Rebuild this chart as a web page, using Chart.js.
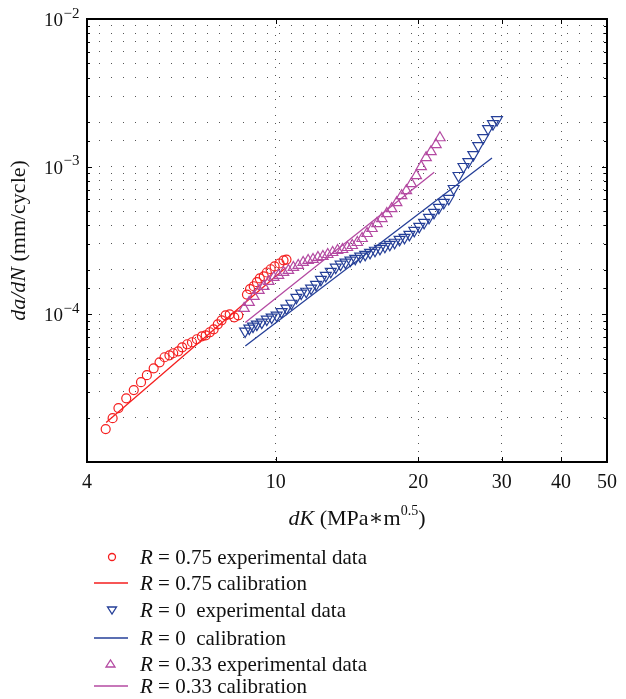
<!DOCTYPE html>
<html>
<head>
<meta charset="utf-8">
<script src="https://cdn.jsdelivr.net/npm/chart.js@4.4.1/dist/chart.umd.min.js"></script>
<style>
  html, body { margin: 0; padding: 0; background: #fff; }
  #wrap { width: 626px; height: 699px; }
</style>
</head>
<body>
<div id="wrap"><canvas id="crack" width="626" height="699"></canvas></div>
<script>
// axis ticks
const X_TICKS = [4, 10, 20, 30, 40, 50];
const Y_MAJOR = [1e-4, 1e-3, 1e-2];

// R = 0.75 experimental data
const R075_DK = [4.38, 4.53, 4.66, 4.84, 5.02, 5.20, 5.35, 5.53, 5.69, 5.83, 5.97, 6.08, 6.23, 6.35,
  6.51, 6.66, 6.82, 6.99, 7.12, 7.26, 7.40, 7.55, 7.69, 7.84, 8.00, 8.18, 8.34, 8.70, 8.83, 8.99,
  9.13, 9.26, 9.44, 9.58, 9.76, 9.95, 10.19, 10.39, 10.54];
const R075_RATE = [1.67e-5, 1.98e-5, 2.32e-5, 2.70e-5, 3.07e-5, 3.47e-5, 3.87e-5, 4.31e-5, 4.73e-5,
  5.12e-5, 5.28e-5, 5.45e-5, 5.62e-5, 5.98e-5, 6.27e-5, 6.47e-5, 6.78e-5, 7.10e-5, 7.21e-5, 7.56e-5,
  7.92e-5, 8.56e-5, 9.11e-5, 9.84e-5, 1.00e-4, 9.54e-5, 9.85e-5, 1.36e-4, 1.48e-4, 1.55e-4, 1.65e-4,
  1.75e-4, 1.81e-4, 1.92e-4, 2.02e-4, 2.11e-4, 2.21e-4, 2.32e-4, 2.35e-4];
// R = 0.75 calibration
const R075_CAL_DK = [4.39, 10.5];
const R075_CAL_RATE = [1.85e-5, 2.07e-4];

// R = 0 experimental data
const R0_DK = [8.62, 8.80, 8.96, 9.13, 9.35, 9.58, 9.81, 10.05, 10.29, 10.54, 10.79, 11.06, 11.32,
  11.60, 11.88, 12.17, 12.46, 12.76, 13.07, 13.39, 13.71, 14.04, 14.38, 14.72, 15.08, 15.45, 15.82,
  16.20, 16.60, 17.00, 17.41, 17.82, 18.26, 18.70, 19.15, 19.61, 20.09, 20.57, 21.07, 21.58, 22.10,
  22.63, 23.18, 23.74, 24.31, 24.90, 25.50, 26.12, 26.75, 27.40, 28.06, 28.74, 29.30];
const R0_RATE = [7.68e-5, 8.04e-5, 8.30e-5, 8.56e-5, 8.83e-5, 9.25e-5, 9.54e-5, 9.84e-5, 1.04e-4,
  1.10e-4, 1.186e-4, 1.30e-4, 1.39e-4, 1.43e-4, 1.50e-4, 1.59e-4, 1.72e-4, 1.83e-4, 1.95e-4, 2.08e-4,
  2.18e-4, 2.25e-4, 2.32e-4, 2.39e-4, 2.47e-4, 2.54e-4, 2.62e-4, 2.71e-4, 2.79e-4, 2.88e-4, 2.97e-4,
  3.07e-4, 3.21e-4, 3.31e-4, 3.47e-4, 3.69e-4, 3.93e-4, 4.18e-4, 4.52e-4, 4.89e-4, 5.28e-4, 5.71e-4,
  6.08e-4, 7.10e-4, 8.69e-4, 1.0e-3, 1.08e-3, 1.205e-3, 1.386e-3, 1.57e-3, 1.806e-3, 1.95e-3, 2.08e-3];
// R = 0 calibration
const R0_CAL_DK = [8.63, 28.6];
const R0_CAL_RATE = [6.1e-5, 1.145e-3];

// R = 0.33 experimental data
const R033_DK = [8.58, 8.79, 9.00, 9.22, 9.44, 9.67, 9.91, 10.14, 10.39, 10.64, 10.90, 11.16, 11.43,
  11.71, 11.99, 12.28, 12.58, 12.88, 13.19, 13.51, 13.84, 14.17, 14.51, 14.87, 15.22, 15.59, 15.97,
  16.36, 16.75, 17.16, 17.57, 18.00, 18.44, 18.87, 19.33, 19.80, 20.28, 20.77, 21.27, 21.79, 22.21];
const R033_RATE = [1.098e-4, 1.205e-4, 1.323e-4, 1.453e-4, 1.546e-4, 1.671e-4, 1.778e-4, 1.834e-4,
  1.922e-4, 1.983e-4, 2.078e-4, 2.143e-4, 2.245e-4, 2.317e-4, 2.353e-4, 2.427e-4, 2.465e-4, 2.543e-4,
  2.623e-4, 2.706e-4, 2.749e-4, 2.836e-4, 2.925e-4, 3.066e-4, 3.263e-4, 3.527e-4, 3.813e-4, 4.119e-4,
  4.452e-4, 4.813e-4, 5.202e-4, 5.712e-4, 6.369e-4, 6.884e-4, 7.675e-4, 8.694e-4, 1.0e-3, 1.15e-3,
  1.263e-3, 1.408e-3, 1.57e-3];
// R = 0.33 calibration
const R033_CAL_DK = [8.63, 21.6];
const R033_CAL_RATE = [8.79e-5, 9.15e-4];

const RED = "#f51e1e", BLUE = "#253f98", MAGENTA = "#b44aa2";
const SERIF = "'Liberation Serif', 'DejaVu Serif', serif";

const pts = (xs, ys) => xs.map((x, i) => ({ x, y: ys[i] }));

function expSet(label, xs, ys, color, style, rot, r, order) {
    return {
        label, data: pts(xs, ys), showLine: false,
        pointStyle: style, rotation: rot, pointRadius: r, pointBorderWidth: 1.2,
        borderColor: color, backgroundColor: "rgba(0,0,0,0)", order,
    };
}
function calSet(label, xs, ys, color, order) {
    return {
        label, data: pts(xs, ys), showLine: true, pointRadius: 0,
        borderColor: color, borderWidth: 1.3, fill: false, order,
    };
}

// ── frame, inward ticks, labels, titles and legend ──────────────────────────
const decor = {
    id: "decor",
    afterDraw(chart) {
        const { ctx, chartArea: a, scales } = chart;
        const xs = scales.x, ys = scales.y;
        ctx.save();

        // inward ticks
        ctx.strokeStyle = "#000";
        ctx.lineWidth = 1;
        X_TICKS.slice(1, -1).forEach(v => {
            const px = Math.round(xs.getPixelForValue(v)) + 0.5;
            ctx.beginPath();
            ctx.moveTo(px, a.bottom); ctx.lineTo(px, a.bottom - 5);
            ctx.moveTo(px, a.top); ctx.lineTo(px, a.top + 5);
            ctx.stroke();
        });
        ys.ticks.forEach(t => {
            const py = Math.round(ys.getPixelForValue(t.value)) + 0.5;
            const len = Y_MAJOR.includes(t.value) ? 5 : 3;
            ctx.beginPath();
            ctx.moveTo(a.left, py); ctx.lineTo(a.left + len, py);
            ctx.moveTo(a.right, py); ctx.lineTo(a.right - len, py);
            ctx.stroke();
        });

        // frame
        ctx.lineWidth = 2;
        ctx.strokeRect(a.left, a.top, a.right - a.left, a.bottom - a.top);

        ctx.fillStyle = "#111";
        ctx.textBaseline = "alphabetic";

        // y tick labels with superscripts
        Y_MAJOR.forEach(v => {
            const py = ys.getPixelForValue(v);
            const exp = "\u2212" + Math.round(-Math.log10(v));
            ctx.font = "19px " + SERIF;
            const wb = ctx.measureText("10").width;
            ctx.font = "15px " + SERIF;
            const we = ctx.measureText(exp).width;
            const x0 = 79 - wb - we;
            ctx.font = "19px " + SERIF;
            ctx.textAlign = "left";
            ctx.fillText("10", x0, py + 7);
            ctx.font = "15px " + SERIF;
            ctx.fillText(exp, x0 + wb + 0.5, py - 1.5);
        });

        // x title: dK (MPa*m^0.5)
        drawParts(ctx, [
            ["italic 22px " + SERIF, "dK", 0],
            ["22px " + SERIF, " (MPa\u2217m", 0],
            ["14px " + SERIF, "0.5", -10],
            ["22px " + SERIF, ")", 0],
        ], 357, 525, 0);

        // y title: da/dN (mm/cycle)
        ctx.save();
        ctx.translate(25, (a.top + a.bottom) / 2);
        ctx.rotate(-Math.PI / 2);
        drawParts(ctx, [
            ["italic 22px " + SERIF, "da/dN", 0],
            ["22px " + SERIF, " (mm/cycle)", 0],
        ], 0, 0, 0);
        ctx.restore();

        // legend
        const rows = [
            { kind: "circle", color: RED, val: "0.75", txt: " experimental data", y: 557 },
            { kind: "line", color: RED, val: "0.75", txt: " calibration", y: 583 },
            { kind: "down", color: BLUE, val: "0", txt: "  experimental data", y: 610 },
            { kind: "line", color: BLUE, val: "0", txt: "  calibration", y: 638 },
            { kind: "up", color: MAGENTA, val: "0.33", txt: " experimental data", y: 664 },
            { kind: "line", color: MAGENTA, val: "0.33", txt: " calibration", y: 686 },
        ];
        rows.forEach(r => {
            ctx.strokeStyle = r.color;
            ctx.lineWidth = 1.3;
            ctx.beginPath();
            if (r.kind === "line") {
                ctx.moveTo(94, r.y); ctx.lineTo(128, r.y);
            } else if (r.kind === "circle") {
                ctx.arc(112, r.y, 3.5, 0, Math.PI * 2);
            } else if (r.kind === "down") {
                ctx.moveTo(107.5, r.y - 3); ctx.lineTo(116.5, r.y - 3); ctx.lineTo(112, r.y + 4); ctx.closePath();
            } else {
                ctx.moveTo(106, r.y + 3); ctx.lineTo(115, r.y + 3); ctx.lineTo(110.5, r.y - 4); ctx.closePath();
            }
            ctx.stroke();
            ctx.fillStyle = "#111";
            drawParts(ctx, [
                ["italic 21px " + SERIF, "R", 0],
                ["21px " + SERIF, " = " + r.val + r.txt, 0],
            ], 140, r.y + 7, 1);
        });

        ctx.restore();
    },
};

// draws runs of differently styled text; align 0 = centred, 1 = left
function drawParts(ctx, parts, x, y, align) {
    let total = 0;
    const widths = parts.map(([font, text]) => {
        ctx.font = font;
        const w = ctx.measureText(text).width;
        total += w;
        return w;
    });
    let cx = align === 1 ? x : x - total / 2;
    ctx.textAlign = "left";
    parts.forEach(([font, text, dy], i) => {
        ctx.font = font;
        ctx.fillText(text, cx, y + dy);
        cx += widths[i];
    });
}

new Chart(document.getElementById("crack").getContext("2d"), {
    type: "scatter",
    data: {
        datasets: [
            expSet("R = 0.75 experimental data", R075_DK, R075_RATE, RED, "circle", 0, 4.5, 6),
            calSet("R = 0.75 calibration", R075_CAL_DK, R075_CAL_RATE, RED, 5),
            expSet("R = 0 experimental data", R0_DK, R0_RATE, BLUE, "triangle", 180, 6.3, 4),
            calSet("R = 0 calibration", R0_CAL_DK, R0_CAL_RATE, BLUE, 3),
            expSet("R = 0.33 experimental data", R033_DK, R033_RATE, MAGENTA, "triangle", 0, 6, 2),
            calSet("R = 0.33 calibration", R033_CAL_DK, R033_CAL_RATE, MAGENTA, 1),
        ],
    },
    options: {
        responsive: false,
        animation: false,
        layout: { padding: { top: 19, right: 10, left: 0, bottom: 0 } },
        plugins: { legend: { display: false }, tooltip: { enabled: false } },
        scales: {
            x: {
                type: "logarithmic",
                min: 4, max: 50,
                afterBuildTicks: s => { s.ticks = X_TICKS.map(v => ({ value: v })); },
                afterFit: s => { s.height = 237; },
                grid: {
                    color: c => (c.tick && (c.tick.value === 4 || c.tick.value === 50)) ? "rgba(0,0,0,0)" : "#555",
                    lineWidth: 1,
                    drawTicks: false,
                },
                border: { display: false, dash: [1, 7] },
                ticks: {
                    padding: 9,
                    color: "#111",
                    font: { family: SERIF, size: 20 },
                    callback: v => String(v),
                    autoSkip: false, maxRotation: 0,
                },
            },
            y: {
                type: "logarithmic",
                min: 1e-5, max: 1e-2,
                afterFit: s => { s.width = 87; },
                grid: { color: "#555", lineWidth: 1, drawTicks: false },
                border: { display: false, dash: [1, 11] },
                ticks: { display: false },
            },
        },
    },
    plugins: [decor],
});
</script>
</body>
</html>
